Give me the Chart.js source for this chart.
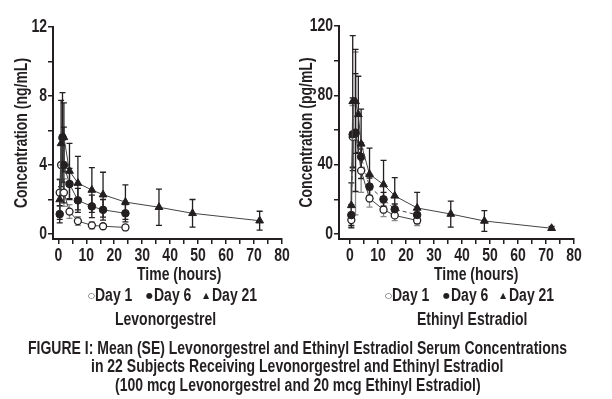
<!DOCTYPE html>
<html>
<head>
<meta charset="utf-8">
<script src="https://cdn.jsdelivr.net/npm/chart.js@4/dist/chart.umd.min.js"></script>
<style>
  html, body { margin:0; padding:0; background:#fff; }
  body { width:612px; height:399px; position:relative; overflow:hidden;
         font-family:"Liberation Sans",Arial,sans-serif; font-weight:bold; color:#231f20; }
  .cv { position:absolute; top:0; }
  .txt { position:absolute; white-space:nowrap; height:18px; line-height:18px; font-size:17.5px;
         transform:scaleX(0.8); transform-origin:0 0; }
  .sym { position:absolute; height:18px; line-height:18px; font-size:8px; font-family:"DejaVu Sans",sans-serif; }
</style>
</head>
<body>
<div class="cv" style="left:0;width:300px;height:290px;"><canvas id="c1" width="300" height="290"></canvas></div>
<div class="cv" style="left:295px;width:317px;height:290px;"><canvas id="c2" width="317" height="290"></canvas></div>

<div class="txt" style="left:137px;top:265px;">Time (hours)</div>
<div class="txt" style="left:434px;top:265px;">Time (hours)</div>

<div class="sym" style="left:88px;top:287px;">○</div><div class="txt" style="left:95px;top:286px;">Day 1</div>
<div class="sym" style="left:146px;top:287px;">●</div><div class="txt" style="left:154px;top:286px;">Day 6</div>
<div class="sym" style="left:203px;top:287px;">▲</div><div class="txt" style="left:212px;top:286px;">Day 21</div>
<div class="txt" style="left:115px;top:310px;">Levonorgestrel</div>

<div class="sym" style="left:385px;top:287px;">○</div><div class="txt" style="left:392px;top:286px;">Day 1</div>
<div class="sym" style="left:443px;top:287px;">●</div><div class="txt" style="left:451px;top:286px;">Day 6</div>
<div class="sym" style="left:500px;top:287px;">▲</div><div class="txt" style="left:509px;top:286px;">Day 21</div>
<div class="txt" style="left:417px;top:310px;">Ethinyl Estradiol</div>

<div class="txt" style="left:28px;top:339px;">FIGURE I: Mean (SE) Levonorgestrel and Ethinyl Estradiol Serum Concentrations</div>
<div class="txt" style="left:91px;top:357px;">in 22 Subjects Receiving Levonorgestrel and Ethinyl Estradiol</div>
<div class="txt" style="left:115px;top:376px;">(100 mcg Levonorgestrel and 20 mcg Ethinyl Estradiol)</div>

<script>
// ---------- Data: Levonorgestrel (ng/mL) ----------
const lngDay1Times = [0.5, 1, 2, 4, 7, 12, 16, 24];
const lngDay1 = [2.4, 4.0, 2.4, 1.3, 0.75, 0.5, 0.45, 0.38];
const lngDay1Err = [0.8, 1.5, 0.8, 0.4, 0.25, 0.2, 0.15, 0.12];
const lngDay6Times = [0.5, 1.5, 2, 4, 7, 12, 16, 24];
const lngDay6 = [1.15, 5.6, 4.0, 2.9, 1.95, 1.6, 1.4, 1.2];
const lngDay6Err = [0.5, 2.6, 2.2, 0.9, 0.7, 0.65, 0.6, 0.5];
const lngDay21Times = [0.5, 1, 2, 4, 7, 12, 16, 24, 36, 48, 72];
const lngDay21 = [2.0, 5.25, 5.6, 3.65, 2.95, 2.55, 2.28, 1.85, 1.55, 1.2, 0.77];
const lngDay21Err = [1.15, 2.5, 2.0, 1.6, 1.55, 1.3, 1.3, 1.0, 1.05, 0.8, 0.55];

// ---------- Data: Ethinyl Estradiol (pg/mL) ----------
const eeDay1Times = [0.5, 1, 2, 4, 7, 12, 16, 24];
const eeDay1 = [8, 56, 58, 36.5, 20.5, 14, 10.7, 7.8];
const eeDay1Err = [4, 18, 47, 12.5, 5, 4, 3, 3];
const eeDay6Times = [0.5, 1, 2, 4, 7, 12, 16, 24];
const eeDay6 = [10.9, 57.5, 58.5, 44.5, 27.3, 20, 14.3, 11];
const eeDay6Err = [6, 21, 34, 8, 5, 4, 3, 3];
const eeDay21Times = [0.5, 1, 2, 3, 4, 7, 12, 16, 24, 36, 48, 72];
const eeDay21 = [16.5, 76.5, 76.5, 69, 52, 34.5, 28.5, 22, 15, 11.5, 7.5, 3.3];
const eeDay21Err = [13, 38, 30, 22, 20, 15, 14, 10.5, 9, 7.5, 6, 1];

// ---------- Tick labels ----------
const xTicks = [0, 5, 10, 15, 20, 25, 30, 35, 40, 45, 50, 55, 60, 65, 70, 75, 80];
const xTickLabels = ['0', '10', '20', '30', '40', '50', '60', '70', '80'];
const lngYTicks = [0, 2, 4, 6, 8, 10, 12];
const lngYTickLabels = ['0', '4', '8', '12'];
const eeYTicks = [0, 20, 40, 60, 80, 100, 120];
const eeYTickLabels = ['0', '40', '80', '120'];

const FONT = "'Liberation Sans', Arial, sans-serif";
const INK = '#231f20';

function pts(times, vals) { return times.map((t, i) => ({x: t, y: vals[i]})); }

// condensed text: narrow every canvas label horizontally
const condense = {
  id: 'condense',
  beforeDraw(chart) {
    const ctx = chart.ctx;
    if (ctx.__condensed) return;
    const orig = ctx.fillText;
    ctx.fillText = function (t, x, y) {
      this.save(); this.translate(x, y); this.scale(0.8, 1);
      orig.call(this, t, 0, 0);
      this.restore();
    };
    ctx.__condensed = true;
  }
};

const errorBars = {
  id: 'errorBars',
  beforeDatasetsDraw(chart) {
    const ctx = chart.ctx, ys = chart.scales.y;
    chart.data.datasets.forEach((ds, di) => {
      const meta = chart.getDatasetMeta(di);
      ctx.save();
      ctx.strokeStyle = ds.errColor;
      ctx.lineWidth = 1.3;
      meta.data.forEach((p, i) => {
        const v = ds.data[i].y, e = ds.errors[i];
        const yt = ys.getPixelForValue(v + e), yb = ys.getPixelForValue(v - e);
        ctx.beginPath();
        ctx.moveTo(p.x, yt); ctx.lineTo(p.x, yb);
        ctx.moveTo(p.x - 3, yt); ctx.lineTo(p.x + 3, yt);
        ctx.moveTo(p.x - 3, yb); ctx.lineTo(p.x + 3, yb);
        ctx.stroke();
      });
      ctx.restore();
    });
  }
};

function makeChart(id, cfg) {
  const series = [
    {label: 'Day 1', order: 3, data: pts(cfg.t1, cfg.v1), errors: cfg.e1, errColor: '#8a8a8a',
     pointStyle: 'circle', pointRadius: 3.5, pointBackgroundColor: '#fff', pointBorderColor: INK, pointBorderWidth: 1.3,
     borderColor: '#444', borderWidth: 1},
    {label: 'Day 6', order: 2, data: pts(cfg.t6, cfg.v6), errors: cfg.e6, errColor: INK,
     pointStyle: 'circle', pointRadius: 3.8, pointBackgroundColor: INK, pointBorderColor: INK, pointBorderWidth: 1,
     borderColor: '#444', borderWidth: 1, borderDash: cfg.dash6},
    {label: 'Day 21', order: 1, data: pts(cfg.t21, cfg.v21), errors: cfg.e21, errColor: INK,
     pointStyle: 'triangle', pointRadius: 4.5, pointBackgroundColor: INK, pointBorderColor: INK, pointBorderWidth: 1,
     borderColor: '#444', borderWidth: 1}
  ];
  return new Chart(document.getElementById(id), {
    type: 'line',
    data: {datasets: series},
    plugins: [condense, errorBars],
    options: {
      responsive: false, animation: false,
      layout: {padding: {left: 0, top: cfg.padTop, right: cfg.padRight, bottom: 0}},
      plugins: {legend: {display: false}, tooltip: {enabled: false}},
      elements: {line: {tension: 0}},
      scales: {
        x: {
          type: 'linear', min: cfg.xMin, max: 80,
          afterBuildTicks: s => { s.ticks = xTicks.map(v => ({value: v})); },
          afterFit: s => { s.height = cfg.xHeight; },
          ticks: {
            autoSkip: false, maxRotation: 0, padding: 2, color: INK,
            font: {family: FONT, size: 17.5, weight: 'bold'},
            callback: v => (xTickLabels.indexOf(String(v)) >= 0 ? String(v) : '')
          },
          grid: {display: true, drawOnChartArea: false, drawTicks: true, tickLength: 5, color: INK, lineWidth: 1.5},
          border: {display: true, color: INK, width: 2},
          title: {display: false}
        },
        y: {
          type: 'linear', min: cfg.yMin, max: cfg.yMax,
          afterBuildTicks: s => { s.ticks = cfg.yTicks.map(v => ({value: v})); },
          afterFit: s => { s.width = cfg.yWidth; },
          ticks: {
            autoSkip: false, padding: 1, color: INK,
            font: {family: FONT, size: 17.5, weight: 'bold'},
            callback: v => (cfg.yLabels.indexOf(String(v)) >= 0 ? String(v) : '')
          },
          grid: {display: true, drawOnChartArea: false, drawTicks: true, tickLength: 5, color: INK, lineWidth: 1.5},
          border: {display: true, color: INK, width: 2},
          title: {display: true, text: cfg.yTitle, color: INK, padding: {top: cfg.yTitlePad, bottom: 0},
                  font: {family: FONT, size: 17.5, weight: 'bold', lineHeight: 1.2}}
        }
      }
    }
  });
}

makeChart('c1', {
  t1: lngDay1Times, v1: lngDay1, e1: lngDay1Err,
  t6: lngDay6Times, v6: lngDay6, e6: lngDay6Err, dash6: [],
  t21: lngDay21Times, v21: lngDay21, e21: lngDay21Err,
  xMin: -1.9, yMin: -0.29, yMax: 12, yTicks: lngYTicks, yLabels: lngYTickLabels,
  yTitle: 'Concentration (ng/mL)', padTop: 27, padRight: 18, yWidth: 53, xHeight: 51,
  yTitlePad: 12
});
makeChart('c2', {
  t1: eeDay1Times, v1: eeDay1, e1: eeDay1Err,
  t6: eeDay6Times, v6: eeDay6, e6: eeDay6Err, dash6: [4, 3],
  t21: eeDay21Times, v21: eeDay21, e21: eeDay21Err,
  xMin: -3.9, yMin: -2.9, yMax: 120, yTicks: eeYTicks, yLabels: eeYTickLabels,
  yTitle: 'Concentration (pg/mL)', padTop: 26, padRight: 38, yWidth: 44, xHeight: 51,
  yTitlePad: 2
});
</script>
</body>
</html>
